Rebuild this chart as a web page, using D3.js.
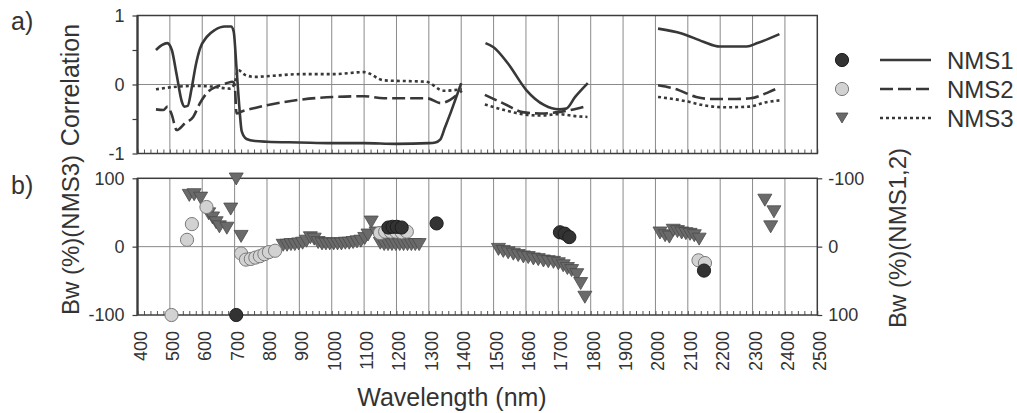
<!DOCTYPE html>
<html>
<head>
<meta charset="utf-8">
<script src="https://cdn.jsdelivr.net/npm/d3@7/dist/d3.min.js"></script>
<style>
  body { margin: 0; background: #fff; }
  svg text { font-family: "Liberation Sans", Arial, sans-serif; fill: #333; }
</style>
</head>
<body>
<svg id="chart" width="1017" height="413"></svg>
<script>
// wavelength ticks (nm)
const wavelengthTicks = [400, 500, 600, 700, 800, 900, 1000, 1100, 1200, 1300, 1400,
  1500, 1600, 1700, 1800, 1900, 2000, 2100, 2200, 2300, 2400, 2500];
const corrTicks = [1, 0.5, 0, -0.5, -1];
const corrLabels = ['1', '', '0', '', '-1'];
const bwTicks = [100, 0, -100];

const seriesNames = ['NMS1', 'NMS2', 'NMS3'];

// a) correlation curves, [wavelength, r]; null = gap in the spectrum
const corrNMS1 = [
  [457, 0.50], [475, 0.57], [492, 0.60], [506, 0.50], [521, 0.14], [537, -0.25], [545, -0.32],
  [555, -0.31], [567, -0.06], [580, 0.28], [593, 0.52], [614, 0.69], [639, 0.79], [670, 0.84],
  [689, 0.84], [697, 0.77], [706, 0.23], [715, -0.35], [722, -0.68], [737, -0.79], [763, -0.82],
  [800, -0.83], [900, -0.84], [1000, -0.85], [1100, -0.85], [1200, -0.86], [1300, -0.85],
  [1320, -0.84], [1335, -0.80], [1350, -0.62], [1368, -0.40], [1385, -0.18], [1400, 0.02],
  [1440, null],
  [1475, 0.60], [1500, 0.54], [1545, 0.30], [1601, -0.08], [1657, -0.30], [1702, -0.36],
  [1724, -0.35], [1752, -0.18], [1791, 0.02],
  [1900, null],
  [2008, 0.81], [2081, 0.74], [2148, 0.62], [2198, 0.55], [2282, 0.55], [2315, 0.60], [2383, 0.73]
];
const corrNMS2 = [
  [457, -0.36], [480, -0.37], [493, -0.32], [506, -0.44], [521, -0.66], [547, -0.56], [572, -0.47],
  [593, -0.27], [619, -0.10], [645, -0.03], [676, 0.02], [693, 0.04], [700, 0.00], [706, -0.42],
  [722, -0.39], [763, -0.34], [800, -0.30], [903, -0.22], [1006, -0.18], [1100, -0.17],
  [1161, -0.20], [1295, -0.20], [1336, -0.27], [1402, -0.09],
  [1440, null],
  [1473, -0.15], [1533, -0.28], [1589, -0.40], [1645, -0.42], [1700, -0.40], [1756, -0.35], [1790, -0.31],
  [1900, null],
  [2008, -0.01], [2059, -0.06], [2126, -0.18], [2170, -0.21], [2249, -0.21], [2294, -0.20],
  [2350, -0.11], [2383, -0.04]
];
const corrNMS3 = [
  [457, -0.07], [526, -0.03], [577, -0.02], [629, -0.03], [686, -0.06], [700, 0.02], [711, 0.21],
  [732, 0.14], [763, 0.11], [800, 0.12], [903, 0.15], [1006, 0.15], [1100, 0.18], [1161, 0.06],
  [1291, 0.04], [1346, -0.09], [1402, -0.07],
  [1440, null],
  [1473, -0.29], [1533, -0.37], [1589, -0.43], [1645, -0.45], [1700, -0.43], [1756, -0.46], [1790, -0.47],
  [1900, null],
  [2008, -0.18], [2092, -0.24], [2148, -0.30], [2215, -0.33], [2290, -0.32], [2339, -0.26], [2383, -0.23]
];

// b) band weights, [wavelength, Bw %]; NMS1,2 read on the right (inverted) axis
const bwNMS1 = [
  [705, 100], [1175, -28], [1188, -29], [1201, -29], [1216, -28], [1324, -34],
  [1705, -21], [1720, -19], [1734, -14], [2150, 35]
];
const bwNMS2 = [
  [505, 100], [553, -10], [568, -33], [613, -58], [720, 10], [735, 19], [750, 18], [764, 16],
  [778, 14], [792, 11], [806, 8], [825, 6], [1149, -20], [1165, -22], [1182, -22], [1199, -22],
  [1216, -21], [1232, -22], [2133, 20], [2153, 24]
];
const bwNMS3 = [
  [560, 75], [575, 76], [595, 71], [620, 48], [632, 42], [643, 35], [653, 29], [676, 27], [688, 55],
  [705, 99], [720, 15],
  [850, 2], [862, 2], [874, 3], [886, 3], [898, 4], [910, 5], [922, 8], [934, 13], [946, 11], [958, 6],
  [970, 4], [982, 4], [994, 4], [1006, 4], [1018, 4], [1030, 4], [1042, 5], [1054, 5], [1066, 6],
  [1078, 7], [1090, 8], [1102, 12], [1112, 17], [1122, 36], [1137, 20],
  [1150, 5], [1162, 3], [1174, 3], [1186, 3], [1198, 3], [1210, 3], [1222, 3], [1234, 3], [1246, 3],
  [1258, 3], [1270, 3],
  [1515, -4], [1530, -7], [1545, -9], [1561, -11], [1576, -13], [1592, -15], [1607, -16], [1623, -18],
  [1638, -19], [1654, -21], [1669, -22], [1685, -23], [1700, -25], [1715, -28], [1728, -32],
  [1741, -35], [1757, -41], [1769, -54], [1782, -74],
  [2014, 20], [2030, 16], [2043, 14], [2055, 24], [2068, 22], [2081, 20], [2094, 19], [2107, 18],
  [2120, 16], [2135, 11],
  [2338, 68], [2356, 29], [2366, 51]
];

const svg = d3.select('#chart');
const left = 137.5, right = 817.3;
const topA = 15.5, botA = 153.5;
const topB = 178.3, botB = 315;

const x = d3.scaleLinear().domain([400, 2500]).range([left, right]);
const yCorr = d3.scaleLinear().domain([-1, 1]).range([botA, topA]);
const yBw3 = d3.scaleLinear().domain([-100, 100]).range([botB, topB]);
const yBw12 = d3.scaleLinear().domain([-100, 100]).range([topB, botB]);

const gridColor = '#8a8a8a';
const axisColor = '#3c3c3c';
const lineColor = '#383838';

function panelFrame(y0, y1, zeroY) {
  const g = svg.append('g');
  // vertical grid
  g.selectAll('line.v')
    .data(wavelengthTicks.slice(1, -1))
    .enter().append('line')
    .attr('x1', d => x(d)).attr('x2', d => x(d))
    .attr('y1', y0).attr('y2', y1)
    .attr('stroke', gridColor).attr('stroke-width', 1);
  g.append('line')
    .attr('x1', left).attr('x2', right).attr('y1', zeroY).attr('y2', zeroY)
    .attr('stroke', gridColor).attr('stroke-width', 1);
  // minor ticks every 20 nm along the bottom
  const minor = d3.axisBottom(x).tickValues(d3.range(400, 2501, 20)).tickSize(-4).tickFormat('');
  const m = g.append('g').attr('transform', `translate(0,${y1})`).call(minor);
  m.select('.domain').remove();
  m.selectAll('line').attr('stroke', '#555');
  g.append('rect')
    .attr('x', left).attr('y', y0).attr('width', right - left).attr('height', y1 - y0)
    .attr('fill', 'none').attr('stroke', axisColor).attr('stroke-width', 1.5);
  g.append('line')
    .attr('x1', left).attr('x2', left).attr('y1', y0).attr('y2', y1)
    .attr('stroke', axisColor).attr('stroke-width', 2.2);
  return g;
}

function styleAxis(g) {
  g.select('.domain').remove();
  g.selectAll('line').attr('stroke', axisColor).attr('stroke-width', 1.2);
  g.selectAll('text').style('font-size', '18px').attr('fill', '#333')
    .style('font-family', '"Liberation Sans", Arial, sans-serif');
}

// ---- panel a
panelFrame(topA, botA, yCorr(0));
svg.append('g').attr('transform', `translate(${left},0)`)
  .call(d3.axisLeft(yCorr).tickValues(corrTicks).tickSize(5).tickPadding(8)
    .tickFormat((d, i) => corrLabels[i]))
  .call(styleAxis);

const line = d3.line()
  .defined(d => d[1] !== null)
  .x(d => x(d[0]))
  .y(d => yCorr(d[1]))
  .curve(d3.curveMonotoneX);

const dashes = ['none', '13,5', '3,3'];
[corrNMS1, corrNMS2, corrNMS3].forEach((s, i) => {
  svg.append('path')
    .datum(s)
    .attr('d', line)
    .attr('fill', 'none')
    .attr('stroke', lineColor)
    .attr('stroke-width', 2.6)
    .attr('stroke-dasharray', dashes[i]);
});

// ---- panel b
panelFrame(topB, botB, yBw3(0));
svg.append('g').attr('transform', `translate(${left},0)`)
  .call(d3.axisLeft(yBw3).tickValues(bwTicks).tickSize(5).tickPadding(8).tickFormat(d => String(d)))
  .call(styleAxis);
svg.append('g').attr('transform', `translate(${right},0)`)
  .call(d3.axisRight(yBw12).tickValues([-100, 0, 100]).tickSize(5).tickPadding(6).tickFormat(d => String(d)))
  .call(styleAxis);

// wavelength labels, rotated
svg.append('g').selectAll('text')
  .data(wavelengthTicks)
  .enter().append('text')
  .attr('transform', d => `translate(${x(d) + 9},331) rotate(-90)`)
  .attr('text-anchor', 'end')
  .style('font-size', '18px')
  .text(d => d);

const triPath = (w, h) => `M${-w / 2},${-h / 2}L${w / 2},${-h / 2}L0,${h / 2}Z`;

const marks = svg.append('g');
marks.selectAll('path.tri')
  .data(bwNMS3)
  .enter().append('path')
  .attr('class', 'tri')
  .attr('d', triPath(14, 12))
  .attr('transform', d => `translate(${x(d[0])},${yBw3(d[1])})`)
  .attr('fill', '#6a6a6a').attr('stroke', '#4a4a4a').attr('stroke-width', 0.8);
marks.selectAll('circle.n2')
  .data(bwNMS2)
  .enter().append('circle')
  .attr('class', 'n2')
  .attr('cx', d => x(d[0])).attr('cy', d => yBw12(d[1])).attr('r', 6.6)
  .attr('fill', '#d2d2d2').attr('stroke', '#7a7a7a').attr('stroke-width', 1);
marks.selectAll('circle.n1')
  .data(bwNMS1)
  .enter().append('circle')
  .attr('class', 'n1')
  .attr('cx', d => x(d[0])).attr('cy', d => yBw12(d[1])).attr('r', 6.6)
  .attr('fill', '#333').attr('stroke', '#1e1e1e').attr('stroke-width', 1);

// ---- text
svg.append('text').attr('x', 11).attr('y', 30).style('font-size', '25px').text('a)');
svg.append('text').attr('x', 11).attr('y', 194).style('font-size', '25px').text('b)');

svg.append('text').attr('transform', 'translate(79,85) rotate(-90)')
  .attr('text-anchor', 'middle').style('font-size', '25px').text('Correlation');
svg.append('text').attr('transform', 'translate(79,235) rotate(-90)')
  .attr('text-anchor', 'middle').style('font-size', '24px').text('Bw (%)(NMS3)');
svg.append('text').attr('transform', 'translate(906,238) rotate(-90)')
  .attr('text-anchor', 'middle').style('font-size', '24px').text('Bw (%)(NMS1,2)');
svg.append('text').attr('x', 452).attr('y', 406)
  .attr('text-anchor', 'middle').style('font-size', '25px').text('Wavelength (nm)');

// ---- legend
const legY = [60, 89, 118];
const leg = svg.append('g');
leg.append('circle').attr('cx', 842).attr('cy', legY[0]).attr('r', 6.6)
  .attr('fill', '#333').attr('stroke', '#1e1e1e');
leg.append('circle').attr('cx', 842).attr('cy', legY[1]).attr('r', 6.6)
  .attr('fill', '#d2d2d2').attr('stroke', '#7a7a7a');
leg.append('path').attr('d', triPath(12, 10)).attr('transform', `translate(842,${legY[2]})`)
  .attr('fill', '#6a6a6a').attr('stroke', '#4a4a4a').attr('stroke-width', 0.8);
seriesNames.forEach((name, i) => {
  leg.append('line')
    .attr('x1', 880).attr('x2', 931).attr('y1', legY[i]).attr('y2', legY[i])
    .attr('stroke', lineColor).attr('stroke-width', 2.6)
    .attr('stroke-dasharray', dashes[i]);
  leg.append('text').attr('x', 947).attr('y', legY[i] + 8.5)
    .style('font-size', '24px').text(name);
});
</script>
</body>
</html>
